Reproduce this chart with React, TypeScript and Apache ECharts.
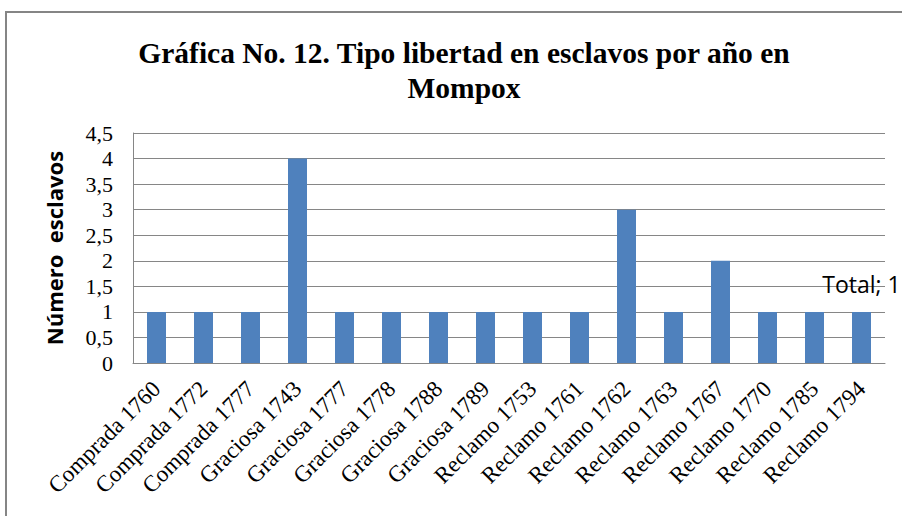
import React, { useEffect, useRef } from "react";
import * as echarts from "echarts";

const categories = [
  "Comprada 1760", "Comprada 1772", "Comprada 1777", "Graciosa 1743",
  "Graciosa 1777", "Graciosa 1778", "Graciosa 1788", "Graciosa 1789",
  "Reclamo 1753", "Reclamo 1761", "Reclamo 1762", "Reclamo 1763",
  "Reclamo 1767", "Reclamo 1770", "Reclamo 1785", "Reclamo 1794",
];
const values = [1, 1, 1, 4, 1, 1, 1, 1, 1, 1, 3, 1, 2, 1, 1, 1];
const seriesName = "Total";
const titleText = "Gráfica No. 12. Tipo libertad en esclavos por año en\nMompox";
const yAxisName = "Número  esclavos";

export default function App() {
  const ref = useRef<HTMLDivElement>(null);
  useEffect(() => {
    if (!ref.current) return;
    const chart = echarts.init(ref.current, null, { renderer: "svg" });
    const last = values.length - 1;
    chart.setOption({
      animation: false,
      backgroundColor: "#ffffff",
      title: {
        text: titleText,
        left: 459,
        textAlign: "center",
        top: 30,
        textStyle: {
          fontFamily: "Liberation Serif",
          fontWeight: "bold",
          fontSize: 29.5,
          lineHeight: 35,
          color: "#000000",
        },
      },
      graphic: [
        {
          type: "rect",
          shape: { x: 6, y: 12, width: 1000, height: 600 },
          style: { fill: "none", stroke: "#858585", lineWidth: 2 },
          silent: true,
        },
      ],
      grid: { left: 133, right: 17, top: 133, bottom: 153, containLabel: false },
      xAxis: {
        type: "category",
        data: categories,
        axisLine: { show: true, lineStyle: { color: "#868686", width: 1 } },
        axisTick: { show: false },
        axisLabel: {
          interval: 0,
          rotate: 45,
          margin: 22,
          fontFamily: "Liberation Serif",
          fontSize: 23,
          color: "#000000",
        },
      },
      yAxis: {
        type: "value",
        min: 0,
        max: 4.5,
        interval: 0.5,
        name: yAxisName,
        nameLocation: "middle",
        nameGap: 68,
        nameRotate: 90,
        nameTextStyle: {
          fontFamily: "Open Sans",
          fontWeight: "bold",
          fontSize: 22,
          color: "#000000",
        },
        axisLine: { show: true, lineStyle: { color: "#868686", width: 1 } },
        axisTick: { show: false },
        splitLine: { show: true, lineStyle: { color: "#868686", width: 1 } },
        axisLabel: {
          margin: 20,
          fontFamily: "Liberation Serif",
          fontSize: 22,
          color: "#000000",
          formatter: (v: number) => String(v).replace(".", ","),
        },
      },
      series: [
        {
          name: seriesName,
          type: "bar",
          barWidth: 19,
          itemStyle: { color: "#4F81BD" },
          data: values.map((v, i) =>
            i === last
              ? {
                  value: v,
                  label: {
                    show: true,
                    position: "top",
                    distance: 16,
                    formatter: (p: any) => `${p.seriesName}; ${p.value}`,
                    fontFamily: "Open Sans",
                    fontSize: 23,
                    color: "#000000",
                  },
                }
              : v
          ),
        },
      ],
    });
    return () => chart.dispose();
  }, []);
  return (
    <div
      ref={ref}
      style={{ position: "fixed", left: 0, top: 0, width: 902, height: 516 }}
    />
  );
}
